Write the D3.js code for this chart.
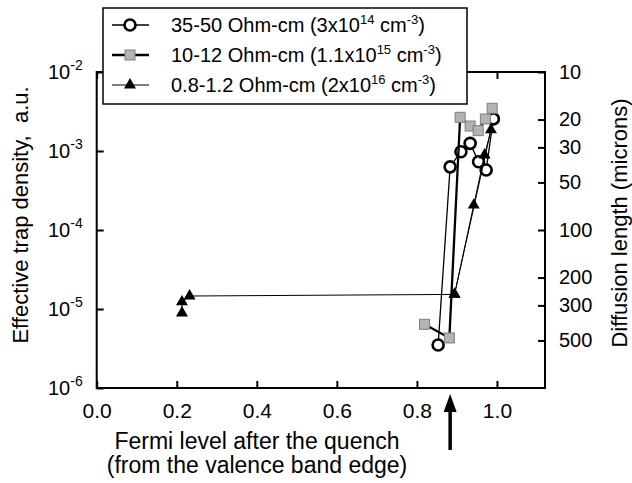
<!DOCTYPE html>
<html>
<head>
<meta charset="utf-8">
<script src="https://cdn.jsdelivr.net/npm/d3@7"></script>
<style>
  body { margin: 0; background: #fff; }
  svg text { font-family: "Liberation Sans", Arial, sans-serif; fill: #000; }
</style>
</head>
<body>
<svg id="chart" width="632" height="483"></svg>
<script>
// data
var xTicks = [0, 0.2, 0.4, 0.6, 0.8, 1.0];
var yExps = [-6, -5, -4, -3, -2];
var lenTicks = [10, 20, 30, 50, 100, 200, 300, 500];

var circX = [0.853, 0.883, 0.910, 0.933, 0.954, 0.973, 0.991];
var circY = [3.5e-6, 6.3e-4, 9.8e-4, 1.25e-3, 7.3e-4, 5.75e-4, 2.55e-3];
var sqX = [0.819, 0.881, 0.908, 0.933, 0.953, 0.971, 0.988];
var sqY = [6.4e-6, 4.3e-6, 2.67e-3, 2.07e-3, 1.81e-3, 2.54e-3, 3.47e-3];
var triX = [0.213, 0.213, 0.232, 0.894, 0.942, 0.969, 0.985, 0.894];
var triY = [8.9e-6, 1.23e-5, 1.46e-5, 1.53e-5, 2.07e-4, 8.9e-4, 1.85e-3, 1.53e-5];

var legendText = ["35-50 Ohm-cm (3x10^14 cm^-3)", "10-12 Ohm-cm (1.1x10^15 cm^-3)", "0.8-1.2 Ohm-cm (2x10^16 cm^-3)"];
var arrowX = 0.883;

var padL = 96.7, padR = 545, padT = 72, padB = 388;
var svg = d3.select("#chart");

var x = d3.scaleLinear().domain([0, 1.12]).range([padL, padR]);
var y = d3.scaleLog().domain([1e-6, 1e-2]).range([padB, padT]);
var yL = d3.scaleLog().domain([10, 1000]).range([padT, padB]); // diffusion length

//write text with ^n superscripts
function superText(sel, str, supSize, rise){
    var parts = str.split(/\^(-?\d+)/);
    var back = 0;
    parts.forEach(function(p, i){
        if(p === "") return;
        if(i % 2 == 1){
            sel.append("tspan").attr("dy", -rise - back).attr("font-size", supSize).text(p);
            back = -rise;
        }else{
            sel.append("tspan").attr("dy", -back).text(p);
            back = 0;
        }
    });
}

// frame
svg.append("rect")
    .attr("x", padL).attr("y", padT)
    .attr("width", padR - padL).attr("height", padB - padT)
    .attr("fill", "none").attr("stroke", "#000").attr("stroke-width", 2);

// bottom + top ticks
var xa = svg.append("g").attr("transform", "translate(0," + padB + ")")
    .call(d3.axisBottom(x).tickValues(xTicks).tickSizeInner(-7).tickSizeOuter(0).tickPadding(15).tickFormat(d3.format(".1f")));
xa.select(".domain").remove();
xa.selectAll("line").attr("stroke-width", 2);
xa.selectAll("text").attr("font-size", 21).attr("fill", "#000");

var xt = svg.append("g").attr("transform", "translate(0," + padT + ")")
    .call(d3.axisTop(x).tickValues(xTicks).tickSizeInner(-7).tickSizeOuter(0).tickFormat(""));
xt.select(".domain").remove();
xt.selectAll("line").attr("stroke-width", 2);

// left ticks
var ya = svg.append("g").attr("transform", "translate(" + padL + ",0)")
    .call(d3.axisLeft(y).tickValues(yExps.map(function(e){ return Math.pow(10, e); })).tickSizeInner(-7).tickSizeOuter(0).tickFormat(""));
ya.select(".domain").remove();
ya.selectAll("line").attr("stroke-width", 2);

yExps.forEach(function(e){
    var t = svg.append("text")
        .attr("x", padL - 14).attr("y", y(Math.pow(10, e)) + 7)
        .attr("text-anchor", "end").attr("font-size", 20);
    superText(t, "10^" + e, 14, 9);
});

// right ticks
var ra = svg.append("g").attr("transform", "translate(" + padR + ",0)")
    .call(d3.axisRight(yL).tickValues(lenTicks).tickSizeInner(-7).tickSizeOuter(0).tickPadding(14).tickFormat(d3.format("d")));
ra.select(".domain").remove();
ra.selectAll("line").attr("stroke-width", 2);
ra.selectAll("text").attr("font-size", 20).attr("fill", "#000");

// axis titles
svg.append("text")
    .attr("transform", "translate(28,215) rotate(-90)")
    .attr("text-anchor", "middle").attr("font-size", 22)
    .style("white-space", "pre")
    .text("Effective trap density,  a.u.");
svg.append("text")
    .attr("transform", "translate(627,223) rotate(-90)")
    .attr("text-anchor", "middle").attr("font-size", 22)
    .text("Diffusion length (microns)");
svg.append("text").attr("x", 257).attr("y", 449)
    .attr("text-anchor", "middle").attr("font-size", 23)
    .text("Fermi level after the quench");
svg.append("text").attr("x", 257).attr("y", 473)
    .attr("text-anchor", "middle").attr("font-size", 23)
    .text("(from the valence band edge)");

// arrow
var ax = x(arrowX);
svg.append("line").attr("x1", ax).attr("x2", ax).attr("y1", 405).attr("y2", 450)
    .attr("stroke", "#000").attr("stroke-width", 3.5);
svg.append("path")
    .attr("d", "M" + ax + " 394 L" + (ax - 6.5) + " 412 L" + (ax + 6.5) + " 412 Z")
    .attr("fill", "#000");

// series
var line = d3.line().x(function(d){ return x(d[0]); }).y(function(d){ return y(d[1]); });
var circ = d3.zip(circX, circY);
var sq = d3.zip(sqX, sqY);
var tri = d3.zip(triX, triY);

svg.append("path").attr("d", line(circ)).attr("fill", "none").attr("stroke", "#000").attr("stroke-width", 1.3);
svg.selectAll(".circ").data(circ).enter().append("circle")
    .attr("cx", function(d){ return x(d[0]); }).attr("cy", function(d){ return y(d[1]); })
    .attr("r", 5.5).attr("fill", "#fff").attr("stroke", "#000").attr("stroke-width", 2.6);

svg.append("path").attr("d", line(sq)).attr("fill", "none").attr("stroke", "#000").attr("stroke-width", 2.3);
svg.selectAll(".sq").data(sq).enter().append("rect")
    .attr("x", function(d){ return x(d[0]) - 5; }).attr("y", function(d){ return y(d[1]) - 5; })
    .attr("width", 10).attr("height", 10)
    .attr("fill", "#b3b3b3").attr("stroke", "#7f7f7f").attr("stroke-width", 1);

var triSym = d3.symbol().type(d3.symbolTriangle).size(62);
svg.append("path").attr("d", line(tri)).attr("fill", "none").attr("stroke", "#000").attr("stroke-width", 1);
svg.selectAll(".tri").data(tri).enter().append("path")
    .attr("d", triSym)
    .attr("transform", function(d){ return "translate(" + x(d[0]) + "," + y(d[1]) + ")"; })
    .attr("fill", "#000");

// legend
var lg = svg.append("g");
lg.append("rect").attr("x", 103).attr("y", 8).attr("width", 364).attr("height", 96)
    .attr("fill", "#fff").attr("stroke", "#000").attr("stroke-width", 1.5);
var rows = [25, 55, 85];
var lw = [1.3, 2.3, 1];
rows.forEach(function(ry, i){
    lg.append("line").attr("x1", 112).attr("x2", 149).attr("y1", ry).attr("y2", ry)
        .attr("stroke", "#000").attr("stroke-width", lw[i]);
    if(i == 0){
        lg.append("circle").attr("cx", 130).attr("cy", ry).attr("r", 5.5)
            .attr("fill", "#fff").attr("stroke", "#000").attr("stroke-width", 2.6);
    }else if(i == 1){
        lg.append("rect").attr("x", 125).attr("y", ry - 5).attr("width", 10).attr("height", 10)
            .attr("fill", "#b3b3b3").attr("stroke", "#7f7f7f");
    }else{
        lg.append("path").attr("d", triSym).attr("transform", "translate(130," + ry + ")").attr("fill", "#000");
    }
    var t = lg.append("text").attr("x", 171).attr("y", ry + 7).attr("font-size", 20);
    superText(t, legendText[i], 13, 8);
});
</script>
</body>
</html>
